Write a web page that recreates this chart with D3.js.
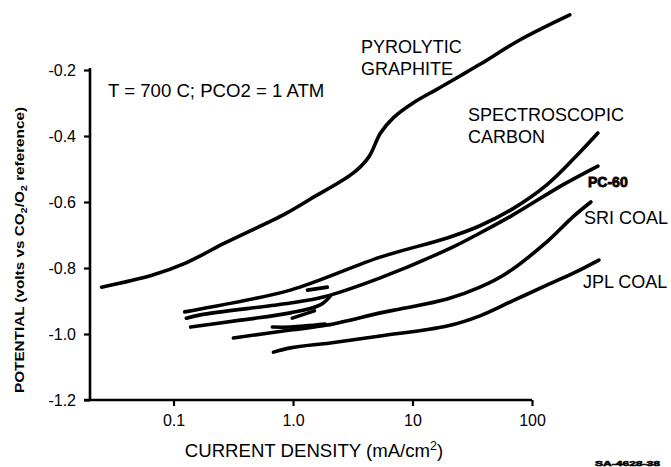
<!DOCTYPE html>
<html>
<head>
<meta charset="utf-8">
<script src="https://cdn.jsdelivr.net/npm/d3@7"></script>
<style>
  body { margin: 0; background: #fff; }
  svg { display: block; font-family: "Liberation Sans", Arial, sans-serif; }
</style>
</head>
<body>
<div id="chart"></div>
<script>
const width = 671
const height = 467

// current density (mA/cm2), potential (V vs CO2/O2)
const pyrolytic = [[0.025,-0.858],[0.067,-0.821],[0.126,-0.785],[0.27,-0.724],[0.86,-0.636],[1.4,-0.591],
  [3.2,-0.512],[4.3,-0.464],[5.4,-0.391],[6.9,-0.345],[10.1,-0.300],[16.1,-0.258],
  [25,-0.218],[37,-0.182],[79,-0.109],[207,-0.033]]
const spectroscopic = [[0.124,-0.933],[0.168,-0.924],[0.95,-0.867],[5.37,-0.767],[19.5,-0.709],
  [36.7,-0.672],[69.4,-0.620],[133,-0.548],[226,-0.467],[356,-0.391]]
const pc60 = [[0.128,-0.952],[0.168,-0.942],[0.95,-0.906],[1.79,-0.888],[5.37,-0.830],[21.9,-0.736],
  [36.7,-0.694],[69.4,-0.639],[181,-0.548],[356,-0.491]]
const pc60b = [[0.139,-0.979],[0.363,-0.958],[0.95,-0.936],[1.69,-0.912],[2.05,-0.885]]
const sriCoal = [[0.317,-1.012],[0.95,-0.988],[1.94,-0.973],[5.37,-0.936],[7.89,-0.924],[19.5,-0.894],
  [36.7,-0.858],[61.8,-0.815],[133,-0.721],[220,-0.645],[311,-0.600]]
const sriCoalB = [[0.671,-0.979],[0.95,-0.979],[1.86,-0.970]]
const jplCoal = [[0.686,-1.055],[0.95,-1.042],[2.05,-1.027],[5.37,-1.006],[19.5,-0.976],[36.7,-0.945],
  [69.4,-0.899],[133,-0.852],[224,-0.815],[363,-0.776]]
const stray1 = [[0.986,-0.952],[1.51,-0.930]]
const stray2 = [[1.32,-0.867],[1.94,-0.858]]

const curves = [pyrolytic, spectroscopic, pc60, pc60b, sriCoal, sriCoalB, jplCoal, stray1, stray2]

const xTicks = [0.1, 1, 10, 100]
const xTickLabels = ["0.1", "1.0", "10", "100"]
const yTicks = [-0.2, -0.4, -0.6, -0.8, -1.0, -1.2]

const svg = d3.select("#chart")
  .append("svg")
  .attr("width", width)
  .attr("height", height)

const x = d3.scaleLog()
  .domain([0.02, 100])
  .range([90, 532])

const y = d3.scaleLinear()
  .domain([-1.2, -0.2])
  .range([400, 70])


/* axes */

const yAxis = svg.append("g")
  .attr("transform", `translate(${x(0.02)},0)`)
  .call(d3.axisLeft(y).tickValues(yTicks).tickSize(6).tickSizeOuter(0).tickPadding(8)
    .tickFormat(d => d.toFixed(1)))

const xAxis = svg.append("g")
  .attr("transform", `translate(0,${y(-1.2)})`)
  .call(d3.axisBottom(x).tickValues(xTicks).tickSize(6).tickSizeOuter(0).tickPadding(9)
    .tickFormat((d, i) => xTickLabels[i]))

for (const g of [xAxis, yAxis]) {
  g.select(".domain").remove()
  g.selectAll(".tick line").attr("stroke", "#000").attr("stroke-width", 2.2)
  g.selectAll(".tick text")
    .attr("fill", "#000")
    .style("font-family", "'Liberation Sans', Arial, sans-serif")
    .style("font-size", "16px")
}

svg.append("line")
  .attr("x1", x(0.02)).attr("x2", x(0.02))
  .attr("y1", y(-0.2) - 2).attr("y2", y(-1.2))
  .attr("stroke", "#000").attr("stroke-width", 2.6)

svg.append("line")
  .attr("x1", x(0.02) - 6).attr("x2", x(100))
  .attr("y1", y(-1.2)).attr("y2", y(-1.2))
  .attr("stroke", "#000").attr("stroke-width", 2.6)


/* curves */

const line = d3.line()
  .x(d => x(d[0]))
  .y(d => y(d[1]))
  .curve(d3.curveCatmullRom.alpha(0.5))

svg.append("g")
  .selectAll("path")
  .data(curves)
  .join("path")
  .attr("d", line)
  .attr("fill", "none")
  .attr("stroke", "#000")
  .attr("stroke-width", 3.6)
  .attr("stroke-linecap", "round")
  .attr("stroke-linejoin", "round")


/* labels */

const labels = [
  {t: "T = 700 C; PCO2 = 1 ATM", x: 108, y: 97, s: 18.6},
  {t: "PYROLYTIC", x: 361, y: 53, s: 18},
  {t: "GRAPHITE", x: 361, y: 75, s: 18},
  {t: "SPECTROSCOPIC", x: 468, y: 121, s: 18},
  {t: "CARBON", x: 468, y: 143, s: 18},
  {t: "SRI COAL", x: 584, y: 224, s: 18},
  {t: "JPL COAL", x: 583, y: 288, s: 18}
]

svg.append("g")
  .selectAll("text")
  .data(labels)
  .join("text")
  .attr("x", d => d.x)
  .attr("y", d => d.y)
  .attr("font-size", d => d.s)
  .text(d => d.t)

svg.append("text")
  .attr("x", 588)
  .attr("y", 187)
  .attr("font-size", 14)
  .attr("font-weight", "bold")
  .attr("stroke", "#000")
  .attr("stroke-width", 0.8)
  .text("PC-60")

const xTitle = svg.append("text")
  .attr("x", 314)
  .attr("y", 457)
  .attr("text-anchor", "middle")
  .attr("font-size", 18.6)

xTitle.append("tspan").text("CURRENT DENSITY (mA/cm")
xTitle.append("tspan").attr("dy", -7).attr("font-size", 12.5).text("2")
xTitle.append("tspan").attr("dy", 7).text(")")

const yTitle = svg.append("text")
  .attr("transform", "translate(24,250) rotate(-90)")
  .attr("text-anchor", "middle")
  .attr("font-size", 12.5)
  .attr("font-weight", "bold")
  .attr("textLength", 286)
  .attr("lengthAdjust", "spacingAndGlyphs")

yTitle.append("tspan").text("POTENTIAL (volts vs CO")
yTitle.append("tspan").attr("dy", 3).attr("font-size", 9).text("2")
yTitle.append("tspan").attr("dy", -3).text("/O")
yTitle.append("tspan").attr("dy", 3).attr("font-size", 9).text("2")
yTitle.append("tspan").attr("dy", -3).text(" reference)")

svg.append("text")
  .attr("x", 595)
  .attr("y", 466)
  .attr("font-size", 8)
  .attr("font-weight", "bold")
  .attr("textLength", 65)
  .attr("lengthAdjust", "spacingAndGlyphs")
  .attr("stroke", "#000")
  .attr("stroke-width", 0.6)
  .text("SA-4628-38")
</script>
</body>
</html>
